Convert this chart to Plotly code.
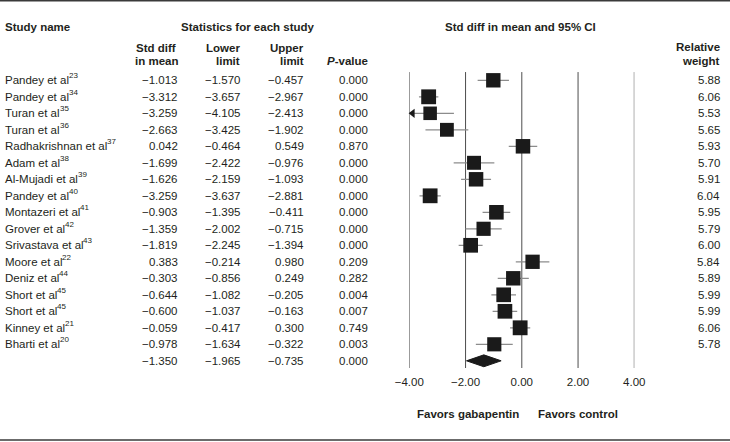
import plotly.graph_objects as go

# ---------------- data ----------------
studies = ["Pandey et al", "Pandey et al", "Turan et al", "Turan et al", "Radhakrishnan et al",
           "Adam et al", "Al-Mujadi et al", "Pandey et al", "Montazeri et al", "Grover et al",
           "Srivastava et al", "Moore et al", "Deniz et al", "Short et al", "Short et al",
           "Kinney et al", "Bharti et al"]
refs = ["23", "34", "35", "36", "37", "38", "39", "40", "41", "42", "43", "22", "44", "45", "45", "21", "20"]
smd = [-1.013, -3.312, -3.259, -2.663, 0.042, -1.699, -1.626, -3.259, -0.903, -1.359,
       -1.819, 0.383, -0.303, -0.644, -0.600, -0.059, -0.978]
lower = [-1.570, -3.657, -4.105, -3.425, -0.464, -2.422, -2.159, -3.637, -1.395, -2.002,
         -2.245, -0.214, -0.856, -1.082, -1.037, -0.417, -1.634]
upper = [-0.457, -2.967, -2.413, -1.902, 0.549, -0.976, -1.093, -2.881, -0.411, -0.715,
         -1.394, 0.980, 0.249, -0.205, -0.163, 0.300, -0.322]
pval = [0.000, 0.000, 0.000, 0.000, 0.870, 0.000, 0.000, 0.000, 0.000, 0.000,
        0.000, 0.209, 0.282, 0.004, 0.007, 0.749, 0.003]
weight = [5.88, 6.06, 5.53, 5.65, 5.93, 5.70, 5.91, 6.04, 5.95, 5.79,
          6.00, 5.84, 5.89, 5.99, 5.99, 6.06, 5.78]
summary_smd, summary_lower, summary_upper, summary_p = -1.350, -1.965, -0.735, 0.000
ticks = [-4, -2, 0, 2, 4]
tick_labels = ["\u22124.00", "\u22122.00", "0.00", "2.00", "4.00"]
xmin, xmax = -4, 4

# ---------------- layout helpers ----------------
W, H = 730, 442
ROW0_PX, ROW_H = 80.3, 16.5
X_LEFT_PX, X_RIGHT_PX = 409.3, 634.3
FONT = "Liberation Sans, Arial, sans-serif"
TXT = "#231f20"
FS = 11.5
SUP_FS = 8

# Arial / Liberation Sans advance widths (1/1000 em) for placing superscripts
_AW = {" ": 278, "-": 333, "A": 667, "B": 667, "D": 722, "G": 778, "K": 667, "M": 833,
       "P": 667, "R": 722, "S": 667, "T": 611, "a": 556, "b": 556, "c": 500, "d": 556,
       "e": 556, "h": 556, "i": 222, "j": 222, "k": 500, "l": 222, "m": 833, "n": 556,
       "o": 556, "r": 333, "s": 500, "t": 278, "u": 556, "v": 500, "y": 500, "z": 500}


def text_w(s, size):
    return sum(_AW.get(ch, 556) for ch in s) * size / 1000.0


def ypx(p):
    """pixel row -> y data value (row i sits at y=-i)"""
    return -(p - ROW0_PX) / ROW_H


def fmt(v):
    return f"{v:.3f}".replace("-", "\u2212")


n = len(studies)
ys = [-i for i in range(n)]
ysum = -n

fig = go.Figure()

# vertical reference lines
for t in ticks:
    fig.add_trace(go.Scatter(x=[t, t], y=[0.5, ypx(368)], mode="lines",
                             line=dict(color="#4d4d4d", width=1), hoverinfo="skip",
                             showlegend=False))

# CI lines (clipped to axis range)
cx, cy = [], []
for lo, up, y in zip(lower, upper, ys):
    cx += [max(lo, xmin), min(up, xmax), None]
    cy += [y, y, None]
fig.add_trace(go.Scatter(x=cx, y=cy, mode="lines", line=dict(color="#8c8c8c", width=1.2),
                         hoverinfo="skip", showlegend=False))

# arrows where CI exceeds range
ax_, ay_ = [], []
px_per_unit = (X_RIGHT_PX - X_LEFT_PX) / (xmax - xmin)
for lo, y in zip(lower, ys):
    if lo < xmin:
        ax_.append(xmin + 3.3 / px_per_unit)
        ay_.append(y)
fig.add_trace(go.Scatter(x=ax_, y=ay_, mode="markers",
                         marker=dict(symbol="triangle-left", size=8, color="#1a1a1a", opacity=1),
                         cliponaxis=False, hoverinfo="skip", showlegend=False))

# squares
fig.add_trace(go.Scatter(x=smd, y=ys, mode="markers",
                         marker=dict(symbol="square", size=[w * 2.45 for w in weight],
                                     color="#1a1a1a", opacity=1, line=dict(width=0)),
                         cliponaxis=False, hoverinfo="skip", showlegend=False))

# summary diamond
dh = 0.36
fig.add_trace(go.Scatter(x=[summary_lower, summary_smd, summary_upper, summary_smd, summary_lower],
                         y=[ysum, ysum + dh, ysum, ysum - dh, ysum], mode="lines",
                         fill="toself", fillcolor="#1a1a1a", line=dict(color="#1a1a1a", width=1),
                         hoverinfo="skip", showlegend=False))

# tick labels
fig.add_trace(go.Scatter(x=ticks, y=[ypx(383)] * len(ticks), mode="text", text=tick_labels,
                         textfont=dict(family=FONT, size=FS, color=TXT),
                         cliponaxis=False, hoverinfo="skip", showlegend=False))

ann = []


def add(text, xp, y, anchor="right", bold=False, size=FS):
    if bold:
        text = f"<b>{text}</b>"
    ann.append(dict(text=text, x=xp / W, xref="paper", y=y, yref="y", xanchor=anchor,
                    yanchor="middle", showarrow=False,
                    font=dict(family=FONT, size=size, color=TXT)))


# headers
add("Study name", 2.5, ypx(27), "left", True)
add("Statistics for each study", 247.5, ypx(27), "center", True)
add("Std diff in mean and 95% CI", 520, ypx(27), "center", True)
add("Std diff", 178, ypx(48), "right", True)
add("in mean", 179.5, ypx(61), "right", True)
add("Lower", 242, ypx(48), "right", True)
add("limit", 242, ypx(61), "right", True)
add("Upper", 306, ypx(48), "right", True)
add("limit", 306, ypx(61), "right", True)
add("<i>P</i>-value", 369.5, ypx(61), "right", True)
add("Relative", 721.5, ypx(47), "right", True)
add("weight", 721.5, ypx(61), "right", True)

# table rows
NAME_X = 2.5
for i in range(n):
    y = ys[i]
    add(studies[i], NAME_X, y, "left")
    add(refs[i], NAME_X + text_w(studies[i], FS) + 0.3, y + 4.4 / ROW_H, "left", size=SUP_FS)
    add(fmt(smd[i]), 180, y)
    add(fmt(lower[i]), 242.5, y)
    add(fmt(upper[i]), 306, y)
    add(fmt(pval[i]), 369.5, y)
    add(f"{weight[i]:.2f}", 721.5, y)

add(fmt(summary_smd), 180, ysum)
add(fmt(summary_lower), 242.5, ysum)
add(fmt(summary_upper), 306, ysum)
add(fmt(summary_p), 369.5, ysum)

add("Favors gabapentin", 468.3, ypx(414), "center", True)
add("Favors control", 578.3, ypx(414), "center", True)

shapes = [
    dict(type="line", xref="paper", yref="paper", x0=0, x1=1, y0=1 - 0.8 / H, y1=1 - 0.8 / H,
         line=dict(color="#3a3a3a", width=1.6)),
    dict(type="line", xref="paper", yref="paper", x0=0, x1=1, y0=1 - 440 / H, y1=1 - 440 / H,
         line=dict(color="#3a3a3a", width=1.6)),
]

fig.update_layout(
    width=W, height=H, margin=dict(l=0, r=0, t=0, b=0),
    paper_bgcolor="white", plot_bgcolor="white",
    xaxis=dict(domain=[X_LEFT_PX / W, X_RIGHT_PX / W], range=[xmin, xmax], visible=False,
               fixedrange=True),
    yaxis=dict(domain=[0, 1], range=[ypx(H), ypx(0)], visible=False, fixedrange=True),
    annotations=ann, shapes=shapes, showlegend=False,
)

fig.write_html("out.html", config={"displayModeBar": False},
               post_script="document.body.style.margin='0';document.body.style.overflow='hidden';")
